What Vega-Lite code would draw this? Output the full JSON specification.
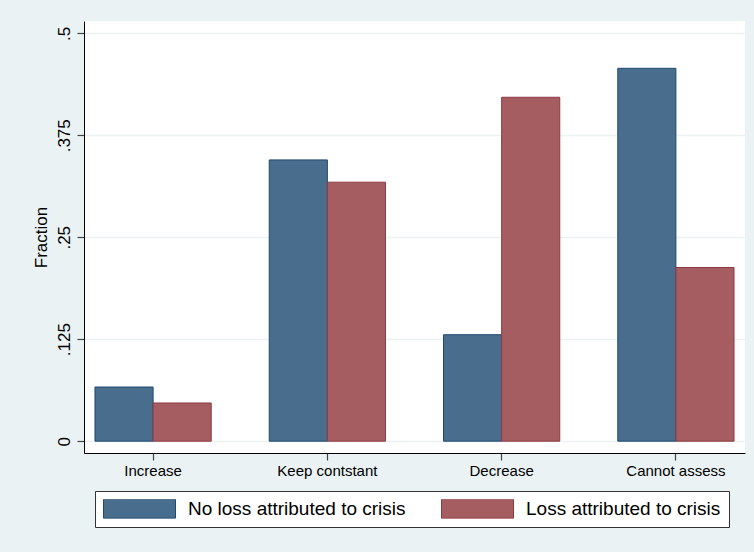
{
  "$schema": "https://vega.github.io/schema/vega-lite/v6.json",
  "width": 661,
  "height": 432,
  "autosize": {"type": "none"},
  "padding": {"left": 84, "top": 21, "right": 9, "bottom": 99},
  "background": "#EAF2F3",
  "config": {
    "view": {"fill": "white", "stroke": null},
    "font": "Liberation Sans"
  },
  "data": {
    "values": [
      {"response": "Increase", "group": "No loss attributed to crisis", "fraction": 0.0664},
      {"response": "Increase", "group": "Loss attributed to crisis", "fraction": 0.0468},
      {"response": "Keep contstant", "group": "No loss attributed to crisis", "fraction": 0.3448},
      {"response": "Keep contstant", "group": "Loss attributed to crisis", "fraction": 0.3175},
      {"response": "Decrease", "group": "No loss attributed to crisis", "fraction": 0.1305},
      {"response": "Decrease", "group": "Loss attributed to crisis", "fraction": 0.4216},
      {"response": "Cannot assess", "group": "No loss attributed to crisis", "fraction": 0.4571},
      {"response": "Cannot assess", "group": "Loss attributed to crisis", "fraction": 0.2129}
    ]
  },
  "mark": {"type": "bar", "strokeWidth": 1},
  "encoding": {
    "x": {
      "field": "response",
      "type": "nominal",
      "sort": ["Increase", "Keep contstant", "Decrease", "Cannot assess"],
      "scale": {"paddingInner": 0.333, "paddingOuter": 0.063},
      "axis": {
        "title": null,
        "labelAngle": 0,
        "labelFontSize": 15,
        "labelColor": "black",
        "labelPadding": 3,
        "domainColor": "black",
        "domainWidth": 1,
        "tickColor": "#444",
        "tickSize": 7,
        "tickWidth": 1.2
      }
    },
    "xOffset": {
      "field": "group",
      "sort": ["No loss attributed to crisis", "Loss attributed to crisis"],
      "scale": {"paddingInner": 0, "paddingOuter": 0}
    },
    "y": {
      "field": "fraction",
      "type": "quantitative",
      "scale": {"domain": [-0.0145, 0.5151], "nice": false, "zero": false},
      "axis": {
        "title": "Fraction",
        "values": [0, 0.125, 0.25, 0.375, 0.5],
        "labelExpr": "datum.value == 0 ? '0' : replace(format(datum.value, '.3~f'), '0.', '.')",
        "labelAngle": -90,
        "labelAlign": "center",
        "labelBaseline": "alphabetic",
        "labelFontSize": 17,
        "labelColor": "black",
        "labelPadding": 8,
        "tickSize": 7,
        "tickColor": "#444",
        "tickWidth": 1.2,
        "grid": true,
        "gridColor": "#EAF2F3",
        "gridWidth": 1.5,
        "domainColor": "black",
        "domainWidth": 1,
        "titleFontSize": 17,
        "titleFontWeight": "normal",
        "titleColor": "black",
        "titlePadding": 5
      }
    },
    "color": {
      "field": "group",
      "type": "nominal",
      "scale": {
        "domain": ["No loss attributed to crisis", "Loss attributed to crisis"],
        "range": ["#496D8C", "#A55D61"]
      },
      "legend": {
        "title": null,
        "orient": "none",
        "legendX": 11,
        "legendY": 470,
        "direction": "horizontal",
        "columns": 2,
        "symbolType": "M-1,-0.264H1V0.264H-1Z",
        "symbolSize": 5184,
        "symbolStrokeWidth": 1,
        "clipHeight": 19,
        "labelFontSize": 19,
        "labelColor": "black",
        "labelOffset": 12,
        "labelLimit": 400,
        "columnPadding": 35,
        "padding": 8,
        "fillColor": "white",
        "strokeColor": "#333"
      }
    },
    "stroke": {
      "field": "group",
      "type": "nominal",
      "scale": {
        "domain": ["No loss attributed to crisis", "Loss attributed to crisis"],
        "range": ["#1F4A70", "#8E3A40"]
      }
    }
  }
}
